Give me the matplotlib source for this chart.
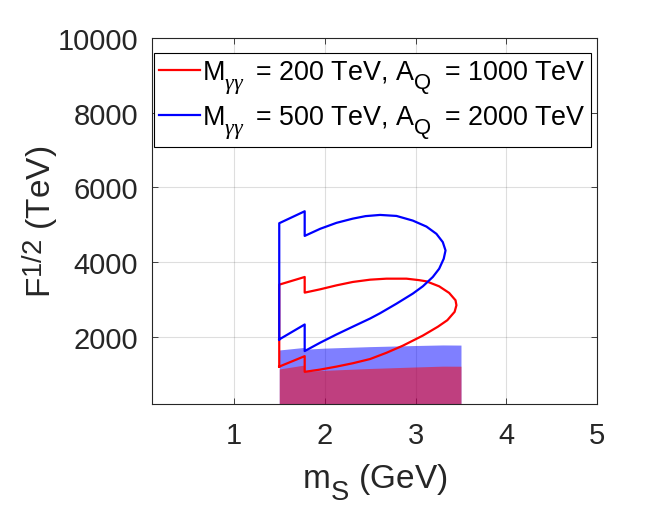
import numpy as np
import matplotlib.pyplot as plt
import matplotlib._mathtext as mathtext_internals

# MATLAB-style sub/superscripts: bigger, subscripts sit lower, superscripts lower
try:
    mathtext_internals.SHRINK_FACTOR = 0.82
    mathtext_internals.FontConstantsBase.sub1 = 0.75
    mathtext_internals.FontConstantsBase.sub2 = 0.9
    mathtext_internals.FontConstantsBase.sup1 = 0.5
except Exception:
    pass

plt.rcParams['font.family'] = ['Liberation Sans', 'DejaVu Sans']
plt.rcParams['mathtext.fontset'] = 'custom'
plt.rcParams['mathtext.rm'] = 'Liberation Sans'
plt.rcParams['mathtext.it'] = 'Liberation Serif:italic'

# outline for M = 200 TeV, A_Q = 1000 TeV
red_x = [1.5, 1.5, 1.78, 1.78, 1.95, 2.13, 2.31, 2.50, 2.68, 2.90, 3.04, 3.12,
         3.26, 3.37, 3.44, 3.45, 3.43, 3.35, 3.245, 3.08, 2.86, 2.68,
         2.50, 2.31, 2.13, 1.95, 1.78, 1.78, 1.5]
red_y = [1200, 3395, 3600, 3181, 3270, 3376, 3467, 3528, 3555, 3555, 3515, 3483,
         3350, 3173, 2976, 2843, 2667, 2443, 2267, 2030, 1760, 1570,
         1403, 1290, 1200, 1120, 1060, 1480, 1200]

# outline for M = 500 TeV, A_Q = 2000 TeV
blue_x = [1.5, 1.5, 1.78, 1.78, 1.95, 2.13, 2.31, 2.45, 2.61, 2.79, 2.97, 3.12,
          3.23, 3.30, 3.33, 3.31, 3.26, 3.19, 3.08, 2.97, 2.79, 2.61, 2.50,
          2.31, 2.13, 1.95, 1.78, 1.78, 1.5]
blue_y = [1928, 5040, 5360, 4700, 4890, 5050, 5163, 5230, 5262, 5235, 5110, 4950,
          4755, 4533, 4310, 4088, 3821, 3600, 3350, 3155, 2885, 2630, 2488,
          2270, 2061, 1840, 1616, 2328, 1928]

# excluded regions (filled)
fill_x = [1.5, 1.78, 1.78, 2.0, 2.5, 3.0, 3.3, 3.5]
blue_fill_top = [1645, 1715, 1665, 1695, 1735, 1765, 1780, 1776]
red_fill_top = [1136, 1243, 1067, 1100, 1150, 1190, 1212, 1210]

labels = [r'M$_{\gamma\gamma}\;$ = 200 TeV, A$_{\rm Q}\;$ = 1000 TeV',
          r'M$_{\gamma\gamma}\;$ = 500 TeV, A$_{\rm Q}\;$ = 2000 TeV']

fig = plt.figure(figsize=(6.61, 5.10), dpi=100)
ax = fig.add_axes([0.23, 0.206, 0.6736, 0.7175])

ax.plot(red_x, red_y, color='red', lw=1.6, label=labels[0])
ax.plot(blue_x, blue_y, color='blue', lw=1.6, label=labels[1])
ax.fill_between(fill_x, 0, blue_fill_top, color='blue', alpha=0.5, lw=0)
ax.fill_between(fill_x, 0, red_fill_top, color='red', alpha=0.5, lw=0)

ax.set_xlim(0.1, 5)
ax.set_ylim(200, 10000)
ax.set_xticks([1, 2, 3, 4, 5])
ax.set_yticks([2000, 4000, 6000, 8000, 10000])
ax.grid(True, color='#262626', alpha=0.15, lw=0.8)
ax.set_axisbelow(True)

dark = '#262626'
ax.tick_params(direction='in', top=True, right=True, length=4, width=0.6,
               labelsize=21, colors=dark)
ax.tick_params(axis='x', pad=12)
ax.tick_params(axis='y', pad=10)
for s in ax.spines.values():
    s.set_color(dark)
    s.set_linewidth(0.8)

ax.set_xlabel(r'm$_{\rm S}$ (GeV)', fontsize=24, color=dark, labelpad=9)
ax.set_ylabel(r'F$^{1/2}$ (TeV)', fontsize=24, color=dark, labelpad=-2)

leg = ax.legend(loc='upper left', bbox_to_anchor=(0.004, 0.96), fontsize=19.4,
                handlelength=1.5, handletextpad=0.1, borderaxespad=0,
                borderpad=0.2, labelspacing=0.28, fancybox=False, framealpha=1)
leg.get_frame().set_edgecolor('black')
leg.get_frame().set_linewidth(0.8)

fig.savefig('out.png', dpi=100)
